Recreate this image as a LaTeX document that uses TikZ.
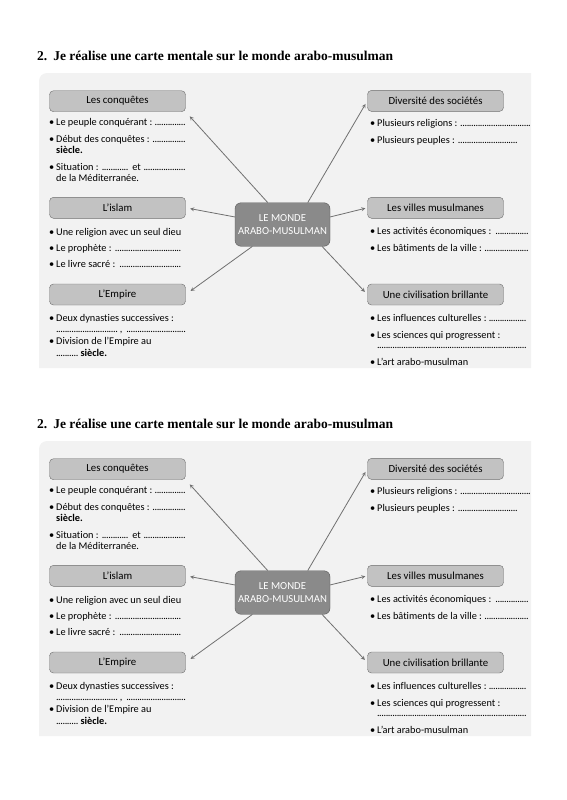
\documentclass[tikz,border=0pt]{standalone}
\usepackage{fontspec}
\setmainfont{Carlito}[Ligatures=NoCommon]
\newfontfamily\titlefont{Liberation Serif}
\usepackage{xcolor}
\usetikzlibrary{arrows}
\usetikzlibrary{positioning}
\usetikzlibrary{calc}

\definecolor{fond}{HTML}{F2F2F2}
\definecolor{gristitre}{HTML}{C2C2C2}
\definecolor{bord}{HTML}{6E6E6E}
\definecolor{griscentre}{HTML}{8A8A8A}
\definecolor{fleche}{HTML}{707070}

\newcommand{\bul}{\makebox[7pt][l]{\textbullet}}
\newcommand{\pts}[1]{\leaders\hbox to 2.2pt{\hss.\hss}\hskip#1\relax}
\newcommand{\ligne}[2]{\makebox[#1][l]{#2\ \leaders\hbox to 2.2pt{\hss.\hss}\hfill}}

\begin{document}
\begin{tikzpicture}[x=1pt,y=-1pt]
	\tikzstyle{every node}=[inner sep=0pt,font=\fontsize{10.3}{12}\selectfont]
	\tikzstyle{rubrique}=[draw=bord,fill=gristitre,rounded corners=4pt,minimum width=136pt,minimum height=21pt,font=\fontsize{10.8}{12}\selectfont]
	\tikzstyle{puce}=[anchor=base west]
	\tikzstyle{fl}=[->,>=stealth,draw=fleche,line width=0.8pt]

	\useasboundingbox (0,0) rectangle (566,800);

	\foreach \dy/\p in {0/a,368/b} {
	\begin{scope}[shift={(0,\dy)},name prefix=\p-]
		\node[anchor=base west,font=\titlefont\bfseries\fontsize{13.5}{15}\selectfont] (titre) at (37,60)
			{2.\hspace{6pt}Je réalise une carte mentale sur le monde arabo-musulman};

		\fill[fond] (531,73) -- (47,73) arc[start angle=270,end angle=180,radius=8] -- (39,368) -- (531,368) -- cycle;

		% centre
		\node[draw=black!65,fill=griscentre,rounded corners=6pt,minimum width=95pt,minimum height=43.5pt,
			align=center,text=white,font=\fontsize{10.7}{12.7}\selectfont] (centre) at (282.5,224.5) {LE MONDE\\ARABO-MUSULMAN};

		% rubriques
		\node[rubrique] (conq) at (117.5,101.2) {Les conquêtes};
		\node[rubrique] (islam) at (117.5,207.8) {L’islam};
		\node[rubrique] (empire) at (117.5,294.5) {L’Empire};
		\node[rubrique] (div) at (435.5,100.9) {Diversité des sociétés};
		\node[rubrique] (villes) at (435.5,207.8) {Les villes musulmanes};
		\node[rubrique] (civ) at (435.5,294.5) {Une civilisation brillante};

		\path (centre.124) edge[fl,shorten >=6pt] (conq.south east)
			(centre.171) edge[fl,shorten >=4.5pt] (islam.east)
			(centre.216) edge[fl,shorten >=6pt] (empire.east)
			(centre.41) edge[fl,shorten >=3.5pt] (div.west)
			(centre.9) edge[fl,shorten >=2pt] (villes.west)
			(centre.331) edge[fl,shorten >=3.5pt] (civ.west);

		% les conquetes
		\node[puce] (c1) at (49,125) {\ligne{137pt}{\bul Le peuple conquérant :}};
		\node[puce] (c2) at (49,142) {\ligne{137pt}{\bul Début des conquêtes :}};
		\node[puce] (c3) at (56,153) {\textbf{siècle.}};
		\node[puce] (c4) at (49,170) {\ligne{137pt}{\bul Situation :\ \pts{29pt}\ et}};
		\node[puce] (c5) at (56,181) {de la Méditerranée.};

		% l'islam
		\node[puce] (i1) at (49,235) {\bul Une religion avec un seul dieu};
		\node[puce] (i2) at (49,251.5) {\ligne{134pt}{\bul Le prophète :}};
		\node[puce] (i3) at (49,267.5) {\ligne{134pt}{\bul Le livre sacré :}};

		% l'empire
		\node[puce] (e1) at (49,321.5) {\bul Deux dynasties successives :};
		\node[puce] (e2) at (56,332) {\ligne{130pt}{\pts{62pt}\,,}};
		\node[puce] (e3) at (49,344) {\bul Division de l’Empire au};
		\node[puce] (e4) at (56,356) {\pts{22pt}\ \textbf{siècle.}};

		% diversite
		\node[puce] (d1) at (370,126.5) {\ligne{161pt}{\bul Plusieurs religions :}};
		\node[puce] (d2) at (370,143.5) {\ligne{148pt}{\bul Plusieurs peuples :}};

		% villes
		\node[puce] (v1) at (370,234.5) {\ligne{159pt}{\bul Les activités économiques :}};
		\node[puce] (v2) at (370,251) {\ligne{159pt}{\bul Les bâtiments de la ville :}};

		% civilisation
		\node[puce] (s1) at (370,321.5) {\ligne{158pt}{\bul Les influences culturelles :}};
		\node[puce] (s2) at (370,338) {\bul Les sciences qui progressent :};
		\node[puce] (s3) at (377,348.5) {\makebox[151pt][l]{\leaders\hbox to 2.2pt{\hss.\hss}\hfill}};
		\node[puce] (s4) at (370,365) {\bul L’art arabo-musulman};
	\end{scope}
	}
\end{tikzpicture}
\end{document}
